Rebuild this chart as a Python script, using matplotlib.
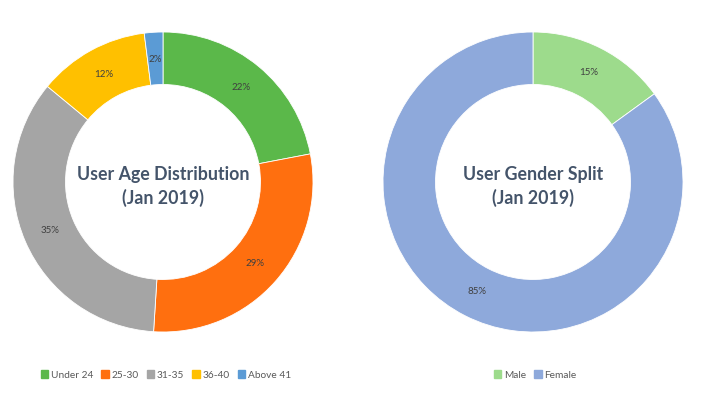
import matplotlib.pyplot as plt
from matplotlib.patches import Patch

# age split
age_labels = ["Under 24", "25-30", "31-35", "36-40", "Above 41"]
age_values = [22, 29, 35, 12, 2]
age_colors = ["#5BB84A", "#FF6F0F", "#A5A5A5", "#FFC000", "#5B9BD5"]

# gender split
gender_labels = ["Male", "Female"]
gender_values = [15, 85]
gender_colors = ["#9DDB8C", "#8EA9DB"]

plt.rcParams["font.family"] = ["Lato", "DejaVu Sans"]

fig = plt.figure(figsize=(7.01, 3.99), dpi=100)
W, H = 701, 399


def donut(cx, cy, r, values, colors, title):
    ax = fig.add_axes([(cx - r) / W, (H - cy - r) / H, 2 * r / W, 2 * r / H])
    ax.pie(values, colors=colors, startangle=90, counterclock=False,
           radius=1, autopct="%d%%", pctdistance=0.82,
           wedgeprops=dict(width=0.35, edgecolor="white", linewidth=0.6),
           textprops=dict(fontsize=7, color="#404040"))
    ax.set_xlim(-1, 1)
    ax.set_ylim(-1, 1)
    ax.set_aspect("equal")
    ax.axis("off")
    ax.text(0, -0.03, title, ha="center", va="center", fontsize=12.8,
            fontweight="bold", color="#44546A", linespacing=1.45)
    return ax


donut(163, 182, 150, age_values, age_colors, "User Age Distribution\n(Jan 2019)")
donut(533, 182, 150, gender_values, gender_colors, "User Gender Split\n(Jan 2019)")

h1 = [Patch(color=c) for c in age_colors]
fig.legend(h1, age_labels, loc="center", bbox_to_anchor=(166 / W, 1 - 375 / H),
           ncol=5, frameon=False, fontsize=7.3, handlelength=0.75, handleheight=0.75,
           handletextpad=0.25, columnspacing=0.8, labelcolor="#595959")
h2 = [Patch(color=c) for c in gender_colors]
fig.legend(h2, gender_labels, loc="center", bbox_to_anchor=(535 / W, 1 - 375 / H),
           ncol=2, frameon=False, fontsize=7.3, handlelength=0.75, handleheight=0.75,
           handletextpad=0.25, columnspacing=0.8, labelcolor="#595959")

fig.savefig("out.png", dpi=100)
